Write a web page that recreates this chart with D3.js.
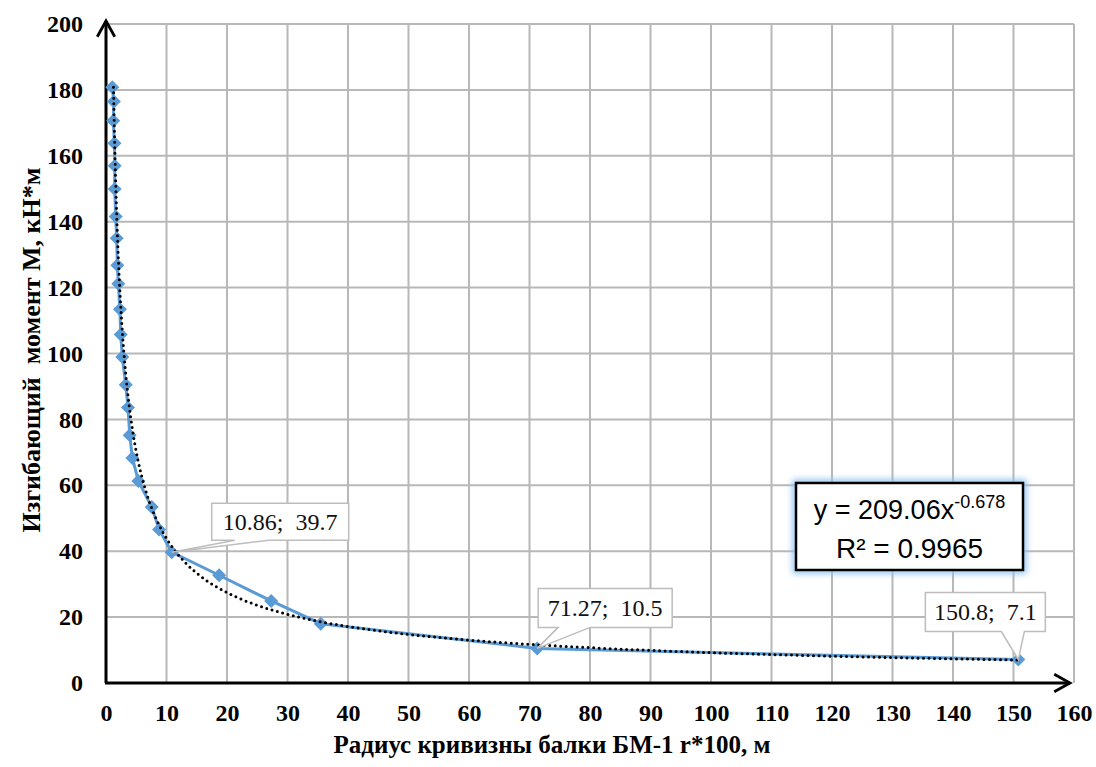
<!DOCTYPE html>
<html><head><meta charset="utf-8">
<script src="https://cdn.jsdelivr.net/npm/d3@7"></script>
<style>body{margin:0;background:#fff}svg{display:block}</style>
</head><body>
<svg id="c" width="1096" height="767"></svg>
<script>
const xVals = [1.04,1.3,1.2,1.4,1.44,1.44,1.6,1.77,1.87,2.04,2.3,2.43,2.7,3.26,3.64,3.92,4.36,5.35,7.56,8.77,10.86,18.7,27.3,35.5,71.27,150.8];
const yVals = [180.8,176.5,170.6,163.8,157.0,149.9,141.6,135.0,126.8,121.2,113.4,105.8,98.9,90.5,83.6,75.2,68.3,61.3,53.4,46.6,39.7,32.7,24.9,18.0,10.5,7.1];
const xTicks = [0,10,20,30,40,50,60,70,80,90,100,110,120,130,140,150,160];
const yTicks = [0,20,40,60,80,100,120,140,160,180,200];
const labels = [
  {x:10.86, y:39.7, text:"10.86;  39.7"},
  {x:71.27, y:10.5, text:"71.27;  10.5"},
  {x:150.8, y:7.1, text:"150.8;  7.1"}
];
const trendA = 209.06, trendB = -0.678, r2 = "0.9965";
const xTitle = "Радиус кривизны балки БМ-1 r*100, м";
const yTitle = "Изгибающий  момент М, кН*м";

const SERIF = "Liberation Serif";
const SANS = "Liberation Sans";
const svg = d3.select("#c");
const L=106, R=1074, T=24, B=683;
const x = d3.scaleLinear().domain([0,160]).range([L,R]);
const y = d3.scaleLinear().domain([0,200]).range([B,T]);

const defs = svg.append("defs");
defs.append("marker").attr("id","arr").attr("viewBox","0 0 12 12").attr("refX",10).attr("refY",6)
  .attr("markerWidth",7).attr("markerHeight",7).attr("orient","auto").attr("markerUnits","strokeWidth")
  .append("path").attr("d","M1,1 L10,6 L1,11").attr("fill","none").attr("stroke","#000").attr("stroke-width",1.6);
const f = defs.append("filter").attr("id","glow").attr("x","-20%").attr("y","-30%").attr("width","140%").attr("height","160%");
f.append("feGaussianBlur").attr("stdDeviation",3);

// grid
const g = svg.append("g");
g.selectAll(".vg").data(xTicks.filter(d=>d>0)).join("line")
  .attr("x1",d=>x(d)).attr("x2",d=>x(d)).attr("y1",T).attr("y2",B)
  .attr("stroke","#b8b8b8").attr("stroke-width",2);
g.selectAll(".hg").data(yTicks.filter(d=>d>0)).join("line")
  .attr("x1",L).attr("x2",R).attr("y1",d=>y(d)).attr("y2",d=>y(d))
  .attr("stroke","#b8b8b8").attr("stroke-width",2);

// axes labels via d3 axes
const xAxis = svg.append("g").attr("transform",`translate(0,${B})`)
  .call(d3.axisBottom(x).tickValues(xTicks).tickSize(0).tickPadding(21));
xAxis.attr("font-family",SERIF).attr("font-size",24);
xAxis.select(".domain").remove();
xAxis.selectAll("text").attr("font-weight","bold").attr("fill","#000");
const yAxis = svg.append("g").attr("transform",`translate(${L},0)`)
  .call(d3.axisLeft(y).tickValues(yTicks).tickSize(0).tickPadding(23));
yAxis.attr("font-family",SERIF).attr("font-size",24);
yAxis.select(".domain").remove();
yAxis.selectAll("text").attr("font-weight","bold").attr("fill","#000");

svg.append("line").attr("x1",L).attr("y1",B).attr("x2",L).attr("y2",T-3)
  .attr("stroke","#000").attr("stroke-width",3).attr("marker-end","url(#arr)");
svg.append("line").attr("x1",L-1).attr("y1",B).attr("x2",R-4).attr("y2",B)
  .attr("stroke","#000").attr("stroke-width",3).attr("marker-end","url(#arr)");

// data line
const pts = xVals.map((v,i)=>[v,yVals[i]]);
svg.append("path").datum(pts)
  .attr("d",d3.line().x(d=>x(d[0])).y(d=>y(d[1])))
  .attr("fill","none").attr("stroke","#5b9bd5").attr("stroke-width",3);
svg.selectAll(".mk").data(pts).join("path")
  .attr("transform",d=>`translate(${x(d[0])},${y(d[1])})`)
  .attr("d","M0,-7 L7,0 L0,7 L-7,0Z").attr("fill","#5b9bd5");

// trend line
const x0 = Math.pow(yVals[0]/trendA, 1/trendB);
const tx = d3.range(0,301).map(i=>x0*Math.pow(d3.max(xVals)/x0, i/300));
svg.append("path").datum(tx)
  .attr("d",d3.line().x(d=>x(d)).y(d=>y(trendA*Math.pow(d,trendB))))
  .attr("fill","none").attr("stroke","#000").attr("stroke-width",3)
  .attr("stroke-linecap","round").attr("stroke-dasharray","0 5.5");

// callouts
const boxes = [
  {dx:40, dy:-49, w:137, h:37, a:23, b:57},
  {dx:1, dy:-60, w:134, h:39, a:20, b:52},
  {dx:-93, dy:-67, w:120, h:39, a:76, b:99}
];
labels.forEach((lb,i)=>{
  const px = x(lb.x), py = y(lb.y), bx = boxes[i];
  const l = px+bx.dx, t = py+bx.dy, r = l+bx.w, bt = t+bx.h;
  const p = `M${l},${t} L${r},${t} L${r},${bt} L${l+bx.b},${bt} L${px},${py} L${l+bx.a},${bt} L${l},${bt}Z`;
  svg.append("path").attr("d",p).attr("fill","#fff").attr("stroke","#bdbdbd").attr("stroke-width",1.5);
  svg.append("text").attr("x",(l+r)/2).attr("y",t+bx.h/2+8).attr("text-anchor","middle")
    .attr("font-family",SERIF).attr("font-size",24).attr("fill","#111")
    .style("white-space","pre").text(lb.text);
});

// equation box
const eb = {l:796,t:483,w:227,h:87};
svg.append("rect").attr("x",eb.l).attr("y",eb.t).attr("width",eb.w).attr("height",eb.h)
  .attr("fill","none").attr("stroke","#8ec3f0").attr("stroke-width",7).attr("filter","url(#glow)");
svg.append("rect").attr("x",eb.l).attr("y",eb.t).attr("width",eb.w).attr("height",eb.h)
  .attr("fill","#fff").attr("stroke","#000").attr("stroke-width",2.5);
const t1 = svg.append("text").attr("x",eb.l+eb.w/2).attr("y",eb.t+36).attr("text-anchor","middle")
  .attr("font-family",SANS).attr("font-size",27).attr("fill","#000");
t1.append("tspan").text(`y = ${trendA}x`);
t1.append("tspan").attr("dy",-11).attr("font-size",18).text(`${trendB}`);
svg.append("text").attr("x",eb.l+eb.w/2).attr("y",eb.t+75).attr("text-anchor","middle")
  .attr("font-family",SANS).attr("font-size",28).attr("fill","#000").text(`R² = ${r2}`);

// titles
svg.append("text").attr("x",552).attr("y",753).attr("text-anchor","middle")
  .attr("font-family",SERIF).attr("font-weight","bold").attr("font-size",25).text(xTitle);
svg.append("text").attr("transform","translate(40,350) rotate(-90)").attr("text-anchor","middle")
  .attr("font-family",SERIF).attr("font-weight","bold").attr("font-size",26)
  .style("white-space","pre").text(yTitle);
</script>
</body></html>
